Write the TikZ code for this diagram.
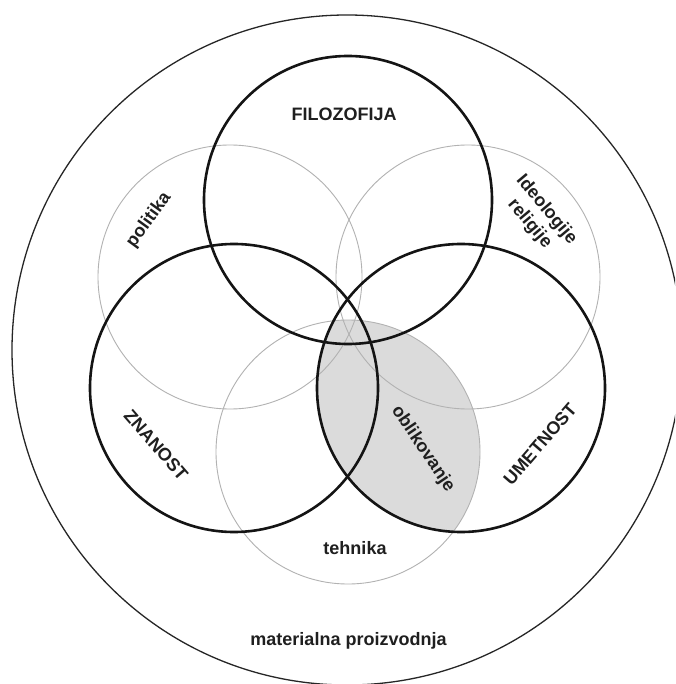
\documentclass[tikz,border=0pt]{standalone}
\usepackage{fontspec}
\setmainfont{Liberation Sans}
\begin{document}
\begin{tikzpicture}[x=1pt,y=-1pt,
  bigring/.style={circle,draw=black!92,line width=2.6pt,inner sep=0pt,minimum size=288pt},
  thinring/.style={circle,draw=black!30,line width=0.9pt,inner sep=0pt,minimum size=264pt},
  outerring/.style={draw=black!85,line width=1.3pt},
  lbl/.style={font=\bfseries\fontsize{18}{22}\selectfont,text=black!88,align=center,inner sep=0pt},
  lensfill/.style={fill=black!14}]
\useasboundingbox (0,0) rectangle (675,684);
\clip (0,0) rectangle (675,684);
\fill[white] (0,0) rectangle (675,684);
% centres
\coordinate (cO) at (347,350);
\coordinate (cF) at (348,200);
\coordinate (cZ) at (234,388);
\coordinate (cU) at (461,388);
\coordinate (cP) at (230,277);
\coordinate (cI) at (468,277);
\coordinate (cT) at (348,452);
% shaded lens: UMETNOST and tehnika
\begin{scope}
  \clip (cU) circle [radius=144pt];
  \fill[lensfill] (cT) circle [radius=132pt];
\end{scope}
% thin grey circles
\node[thinring] (P) at (cP) {};
\node[thinring] (I) at (cI) {};
\node[thinring] (T) at (cT) {};
% thick circles
\node[bigring] (F) at (cF) {};
\node[bigring] (Z) at (cZ) {};
\node[bigring] (U) at (cU) {};
% outer circle
\draw[outerring] (cO) circle [radius=335pt];
% labels
\node[lbl] (tF) at (344,114.5) {FILOZOFIJA};
\node[lbl,rotate=54] (tP) at (149,220) {politika};
\node[lbl,rotate=-50] (tI) at (538,217) {Ideologije\\religije};
\node[lbl,rotate=-49] (tZ) at (156,445) {ZNANOST};
\node[lbl,rotate=49] (tU) at (540,444) {UMETNOST};
\node[lbl,rotate=-56] (tO) at (423,449) {oblikovanje};
\node[lbl] (tT) at (355,548) {tehnika};
\node[lbl] (tM) at (348.5,640.5) {materialna proizvodnja};
\end{tikzpicture}
\end{document}
